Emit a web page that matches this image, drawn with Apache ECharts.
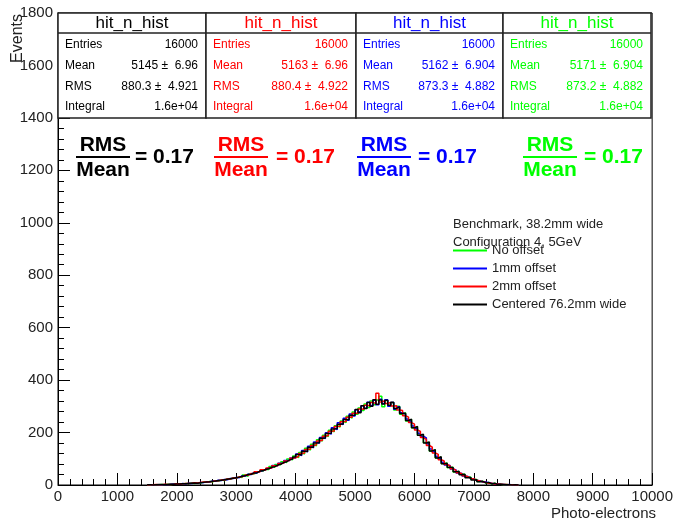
<!DOCTYPE html>
<html>
<head>
<meta charset="utf-8">
<script src="https://cdn.jsdelivr.net/npm/echarts@6/dist/echarts.min.js"></script>
<style>html,body{margin:0;padding:0;background:#fff}#c{width:676px;height:523px}</style>
</head>
<body>
<div id="c"></div>
<script>
// ---- Data ----
const binLow = 1500;
const binWidth = 50;
const seriesNames = ['No offset', '1mm offset', '2mm offset', 'Centered 76.2mm wide'];
const seriesColors = ['#00ff00', '#0000ff', '#ff0000', '#000000'];

const noOffset = [
  0,1,0,1,2,1,3,2,4,3,
  5,4,6,5,8,6,9,8,11,10,
  13,12,16,15,19,17,23,22,27,26,
  31,29,38,33,41,43,47,53,54,60,
  59,71,68,78,77,89,86,99,96,111,
  104,124,118,140,133,155,149,173,168,190,
  185,209,203,226,221,244,238,262,255,278,
  270,294,284,309,296,320,306,324,338,298,
  322,302,314,286,300,270,276,244,250,218,
  222,190,192,162,162,130,134,104,106,82,
  84,66,68,50,52,43,40,31,30,22,
  21,13,14,8,10,4,7,3,3,1,
  2,0,1,0,0
];
const offset1mm = [
  1,0,1,1,0,2,1,3,4,3,
  3,6,4,7,6,8,7,10,9,12,
  11,15,14,18,17,21,20,25,25,29,
  28,35,34,41,40,47,46,52,55,59,
  66,65,74,73,83,83,93,93,103,103,
  118,112,132,126,148,142,164,159,181,177,
  199,194,218,211,237,230,255,247,271,263,
  287,279,302,293,316,303,323,306,327,311,
  325,300,315,289,298,276,270,252,243,225,
  215,197,186,180,156,137,127,110,100,87,
  76,74,61,57,46,44,34,32,25,23,
  17,16,11,12,9,7,4,5,3,2,
  1,2,0,0,1
];
const offset2mm = [
  0,1,2,1,1,3,2,2,3,5,
  4,5,6,6,7,9,8,10,11,11,
  12,13,16,16,19,19,23,23,27,27,
  31,31,38,37,44,43,51,50,58,57,
  65,65,73,73,82,83,92,93,102,104,
  109,120,122,135,137,151,153,168,171,186,
  189,205,206,223,224,241,242,258,258,274,
  274,290,289,304,302,315,311,350,317,321,
  311,315,301,302,286,284,264,259,238,232,
  210,204,181,174,151,144,122,117,96,92,
  78,73,62,56,47,43,35,32,25,23,
  18,15,12,10,7,7,4,4,3,2,
  2,1,1,0,0
];
const centered = [
  1,0,1,2,2,1,2,3,3,4,
  4,5,5,6,7,8,7,9,10,11,
  12,14,15,17,18,20,22,24,26,28,
  30,33,35,40,41,46,47,53,54,60,
  62,68,70,76,79,86,89,96,99,107,
  116,114,129,128,144,144,160,161,178,179,
  196,197,214,215,232,233,250,250,266,266,
  288,276,302,292,315,300,325,308,324,309,
  323,304,316,292,298,273,274,246,251,218,
  223,190,194,160,164,130,135,103,108,81,
  83,68,67,51,52,39,41,28,29,19,
  20,12,14,8,10,4,7,2,3,2,
  1,1,0,1,0
];
const allValues = [noOffset, offset1mm, offset2mm, centered];

// stat boxes (order as in the picture: black, red, blue, green)
const statTitle = 'hit_n_hist';
const statColors = ['#000000', '#ff0000', '#0000ff', '#00ff00'];
const statEntries = ['16000', '16000', '16000', '16000'];
const statMean = ['5145 \u00b1  6.96', '5163 \u00b1  6.96', '5162 \u00b1  6.904', '5171 \u00b1  6.904'];
const statRMS = ['880.3 \u00b1  4.921', '880.4 \u00b1  4.922', '873.3 \u00b1  4.882', '873.2 \u00b1  4.882'];
const statIntegral = ['1.6e+04', '1.6e+04', '1.6e+04', '1.6e+04'];
const ratioText = ['= 0.17', '= 0.17', '= 0.17', '= 0.17'];

const legendHeader = ['Benchmark, 38.2mm wide', 'Configuration 4, 5GeV'];
const xTitle = 'Photo-electrons';
const yTitle = 'Events';

// ---- Layout ----
const FONT = '"Liberation Sans", Arial, Helvetica, sans-serif';
const boxEdges = [[58, 206], [206, 356], [356, 503], [503, 651]];
const rowY = [45, 66, 87, 107];
const rowLabels = ['Entries', 'Mean', 'RMS', 'Integral'];
const fracCx = [103, 241, 384, 550];
const eqX = [135, 276, 418, 584];

const graphics = [];
boxEdges.forEach((b, i) => {
  const col = statColors[i];
  graphics.push({type: 'rect', z: 100, shape: {x: b[0], y: 13, width: b[1] - b[0], height: 105},
    style: {fill: '#fff', stroke: '#222', lineWidth: 1.5}});
  graphics.push({type: 'line', z: 101, shape: {x1: b[0], y1: 33, x2: b[1], y2: 33},
    style: {stroke: '#222', lineWidth: 1.5}});
  graphics.push({type: 'text', z: 102, x: (b[0] + b[1]) / 2, y: 23,
    style: {text: statTitle, fill: col, font: '17px ' + FONT, textAlign: 'center', textVerticalAlign: 'middle'}});
  const vals = [statEntries[i], statMean[i], statRMS[i], statIntegral[i]];
  rowLabels.forEach((lab, r) => {
    graphics.push({type: 'text', z: 102, x: b[0] + 7, y: rowY[r],
      style: {text: lab, fill: col, font: '12px ' + FONT, textAlign: 'left', textVerticalAlign: 'middle'}});
    graphics.push({type: 'text', z: 102, x: b[1] - 8, y: rowY[r],
      style: {text: vals[r], fill: col, font: '12px ' + FONT, textAlign: 'right', textVerticalAlign: 'middle'}});
  });
  // RMS / Mean fraction
  graphics.push({type: 'text', z: 102, x: fracCx[i], y: 145,
    style: {text: 'RMS', fill: col, font: 'bold 21px ' + FONT, textAlign: 'center', textVerticalAlign: 'middle'}});
  graphics.push({type: 'rect', z: 102, shape: {x: fracCx[i] - 27, y: 156, width: 54, height: 2},
    style: {fill: col}});
  graphics.push({type: 'text', z: 102, x: fracCx[i], y: 170,
    style: {text: 'Mean', fill: col, font: 'bold 21px ' + FONT, textAlign: 'center', textVerticalAlign: 'middle'}});
  graphics.push({type: 'text', z: 102, x: eqX[i], y: 157,
    style: {text: ratioText[i], fill: col, font: 'bold 21px ' + FONT, textAlign: 'left', textVerticalAlign: 'middle'}});
});
legendHeader.forEach((t, k) => {
  graphics.push({type: 'text', z: 102, x: 453, y: 224 + k * 18,
    style: {text: t, fill: '#222', font: '13px ' + FONT, textAlign: 'left', textVerticalAlign: 'middle'}});
});
graphics.push({type: 'text', z: 102, x: 18, y: 14, rotation: Math.PI / 2,
  style: {text: yTitle, fill: '#222', font: '16px ' + FONT, textAlign: 'right', textVerticalAlign: 'middle'}});
graphics.push({type: 'text', z: 102, x: 656, y: 514,
  style: {text: xTitle, fill: '#222', font: '15px ' + FONT, textAlign: 'right', textVerticalAlign: 'middle'}});

const series = allValues.map((vals, s) => {
  const data = vals.map((v, i) => [binLow + i * binWidth, v]);
  data.push([binLow + vals.length * binWidth, 0]);
  return {
    name: seriesNames[s], type: 'line', step: 'end', data: data,
    symbol: 'none', showSymbol: false, color: seriesColors[s],
    lineStyle: {width: 1.5, color: seriesColors[s]}, z: 2 + s
  };
});

const axisCommon = {
  axisLine: {show: true, lineStyle: {color: '#000', width: 1}},
  axisTick: {show: true, inside: true, length: 12, lineStyle: {color: '#000', width: 1}},
  minorTick: {show: true, splitNumber: 5, length: 6, lineStyle: {color: '#000', width: 1}},
  splitLine: {show: false},
  minorSplitLine: {show: false},
};
const plain = v => String(v);

const chart = echarts.init(document.getElementById('c'), null, {renderer: 'canvas'});
chart.setOption({
  animation: false,
  backgroundColor: '#fff',
  grid: {left: 58, right: 20, top: 13, bottom: 38, show: true, borderColor: '#000', borderWidth: 1, backgroundColor: 'transparent'},
  xAxis: Object.assign({
    type: 'value', min: 0, max: 10000, interval: 1000,
    axisLabel: {fontSize: 15, color: '#222', fontFamily: FONT, margin: 4, showMinLabel: true, showMaxLabel: true, hideOverlap: false, formatter: plain}
  }, axisCommon),
  yAxis: Object.assign({
    type: 'value', min: 0, max: 1800, interval: 200,
    axisLabel: {fontSize: 15, color: '#222', fontFamily: FONT, margin: 5, showMinLabel: true, showMaxLabel: true, hideOverlap: false, formatter: plain}
  }, axisCommon),
  legend: {
    show: true, orient: 'vertical', left: 453, top: 243, padding: 0,
    icon: 'rect', itemWidth: 34, itemHeight: 2, itemGap: 3,
    data: seriesNames,
    textStyle: {fontSize: 13, fontFamily: FONT, color: '#222', lineHeight: 15, padding: [0, 0, 0, 0]},
    z: 110
  },
  graphic: graphics,
  series: series
});
</script>
</body>
</html>
